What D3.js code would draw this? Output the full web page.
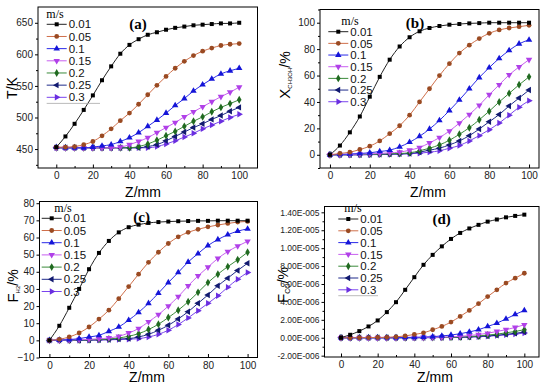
<!DOCTYPE html>
<meta charset="utf-8">
<script src="https://d3js.org/d3.v7.min.js"></script>
<style>
  body { margin: 0; background: #fff; }
  text { font-family: Arial, "Liberation Sans", sans-serif; }
</style>
<div id="my_dataviz"></div>
<script>
  // Z positions along the reactor (mm) and inlet velocities (m/s)
  var zPos = [0, 5, 10, 15, 20, 25, 30, 35, 40, 45, 50, 55, 60, 65, 70, 75, 80, 85, 90, 95, 100];
  var speeds = ["0.01", "0.05", "0.1", "0.15", "0.2", "0.25", "0.3"];

  // (a) temperature, K
  var tempK = [
    [453, 470, 490, 512, 535, 559, 581, 601, 615, 624, 631, 635, 639, 642, 644, 646, 647, 648, 649, 649, 650],
    [453, 453, 454, 457, 462, 471, 482, 495, 507, 521, 536, 551, 565, 578, 589, 598, 605, 610, 614, 616, 617],
    [453, 452, 452, 452, 453, 455, 457, 462, 468, 476, 486, 496, 507, 519, 530, 542, 552, 561, 569, 574, 578],
    [452, 452, 452, 452, 452, 452, 452, 453, 457, 462, 468, 476, 484, 492, 501, 509, 517, 525, 533, 540, 548],
    [452, 452, 452, 452, 452, 452, 452, 452, 452, 454, 458, 464, 471, 478, 486, 494, 501, 509, 516, 522, 528],
    [452, 452, 452, 452, 452, 452, 452, 452, 452, 452, 454, 457, 463, 470, 477, 484, 490, 497, 503, 510, 516],
    [452, 452, 452, 452, 452, 452, 452, 452, 452, 452, 452, 454, 458, 463, 469, 475, 482, 488, 494, 500, 505]
  ];
  // (b) methanol conversion, %
  var convPct = [
    [0, 7, 17, 29, 44, 59, 72, 82, 89, 93.5, 96, 97.5, 98.5, 99, 99.5, 99.7, 100, 100, 100, 100, 100],
    [0, 1, 2, 4, 6.5, 10.5, 16, 22, 30, 40, 50, 60, 69, 77, 83, 88, 92, 94.5, 96, 97, 98],
    [0, 0.3, 0.6, 1, 1.5, 2.5, 3.5, 6, 9.5, 14, 19.5, 26, 33.5, 41.5, 50, 58.5, 66, 73, 79, 84, 87],
    [0, 0.2, 0.3, 0.5, 0.7, 1, 1.5, 2, 3.5, 5.5, 9, 13, 18, 24, 30.5, 37.5, 45.5, 53, 60.5, 66.5, 72],
    [0, 0, 0.1, 0.2, 0.3, 0.5, 0.8, 1, 1.5, 3, 5, 7.5, 11, 15.5, 20.5, 26.5, 33, 40, 46.5, 53, 59],
    [0, 0, 0, 0.1, 0.2, 0.3, 0.5, 0.7, 1, 2, 3.5, 5, 7.5, 10.5, 14.5, 19.5, 25, 30.5, 37, 43, 49],
    [0, 0, 0, 0, 0.1, 0.2, 0.3, 0.5, 0.8, 1.2, 2, 3, 5, 7, 10.5, 14.5, 19, 24, 30, 36, 41]
  ];
  // (c) H2 fraction, %
  var h2Pct = [
    [0, 8.5, 19, 30, 41.5, 51, 58, 63, 66, 67.5, 68.5, 69, 69.3, 69.5, 69.6, 69.7, 69.7, 69.8, 69.8, 69.8, 69.8],
    [0, 0.6, 2, 4.3, 7.8, 12.4, 17.6, 24.3, 31.4, 38.6, 45.5, 51.4, 56.5, 60.4, 63, 64.8, 66.2, 67.3, 68.2, 69, 69.4],
    [0, 0.2, 0.4, 1, 2, 2.9, 5.3, 7.8, 11.8, 16.3, 21.6, 27.5, 33.7, 39.6, 45.7, 50.6, 55.3, 58.8, 61.6, 63.7, 65],
    [0, 0.1, 0.2, 0.4, 0.6, 0.9, 1.4, 2.4, 4.3, 6.9, 10.8, 15, 20, 25.5, 31.8, 37.6, 42.7, 47.8, 51.8, 55, 57.8],
    [0, 0, 0.1, 0.2, 0.3, 0.5, 0.8, 1.4, 2.4, 3.9, 6.3, 9.4, 13.3, 17.6, 22.5, 28, 33.7, 38.6, 43, 47, 51.4],
    [0, 0, 0, 0.1, 0.2, 0.3, 0.5, 0.8, 1, 2, 3.5, 5.9, 8.8, 12.5, 16.7, 21.6, 26.5, 31.8, 36.3, 40.8, 45],
    [0, 0, 0, 0, 0.1, 0.2, 0.3, 0.5, 0.7, 1, 2, 3.5, 5.9, 9.2, 13.1, 17.3, 21.6, 26, 31, 35.7, 39.6]
  ];
  // (d) CO fraction, in units of 1E-006
  var coE6 = [
    [0, 0.33, 0.74, 1.26, 1.93, 2.86, 3.97, 5.35, 6.76, 8.14, 9.25, 10.2, 11.03, 11.7, 12.2, 12.6, 12.96, 13.2, 13.44, 13.6, 13.74],
    [0, 0, 0.01, 0.02, 0.03, 0.05, 0.1, 0.2, 0.37, 0.55, 0.89, 1.26, 1.75, 2.38, 3.05, 3.8, 4.6, 5.35, 6.1, 6.65, 7.2],
    [0, 0, 0, 0, 0, 0.01, 0.02, 0.03, 0.05, 0.08, 0.12, 0.2, 0.3, 0.45, 0.65, 0.9, 1.26, 1.63, 2.1, 2.6, 3.05],
    [0, 0, 0, 0, 0, 0, 0, 0.01, 0.02, 0.03, 0.04, 0.06, 0.1, 0.15, 0.25, 0.35, 0.5, 0.7, 0.9, 1.15, 1.45],
    [0, 0, 0, 0, 0, 0, 0, 0, 0.01, 0.02, 0.03, 0.04, 0.05, 0.08, 0.13, 0.2, 0.3, 0.4, 0.55, 0.7, 0.9],
    [0, 0, 0, 0, 0, 0, 0, 0, 0, 0.01, 0.02, 0.03, 0.04, 0.05, 0.09, 0.14, 0.2, 0.28, 0.38, 0.5, 0.63],
    [0, 0, 0, 0, 0, 0, 0, 0, 0, 0.01, 0.01, 0.02, 0.03, 0.04, 0.07, 0.11, 0.17, 0.24, 0.32, 0.41, 0.52]
  ];

  var xTicks = [0, 20, 40, 60, 80, 100];
  var xMinor = [10, 30, 50, 70, 90];

  // line / marker styles per velocity
  var lineColors = ["#222222", "#cf6f4a", "#2a2ae8", "#c860f0", "#3a8a3a", "#1e2a8a", "#7a44ee"];
  var markColors = ["#000000", "#9a4a22", "#1515d8", "#b040e8", "#206a20", "#121a70", "#6a2ee0"];
  var markTypes = [
    {t: d3.symbolSquare, r: 0, s: 16},
    {t: d3.symbolCircle, r: 0, s: 18},
    {t: d3.symbolTriangle, r: 0, s: 18},
    {t: d3.symbolTriangle, r: 180, s: 18},
    {t: d3.symbolDiamond, r: 0, s: 18},
    {t: d3.symbolTriangle, r: -90, s: 18},
    {t: d3.symbolTriangle, r: 90, s: 18}
  ];

  function fmtE(v) {
    if (v >= 10) return (v / 10).toFixed(2) + "E-005";
    return v.toFixed(2) + "E-006";
  }

  var svg = d3.select("#my_dataviz")
    .append("svg")
      .attr("width", 550)
      .attr("height", 388);

  var panels = [
    {data: tempK, left: 38, right: 257.5, top: 7, bottom: 168, xDom: [-10, 110], yDom: [420, 675],
     yTicks: [450, 500, 550, 600, 650], yMinor: [425, 475, 525, 575, 625], fmt: d3.format("d"), tickFont: 10,
     tag: "(a)", tagX: 138, tagY: 24,
     legX: 46.7, legY: 24.3, legStep: 12.17, mpsX: 55, mpsY: 14, legLine: 100,
     yLab: [["T/K", 14]], yLabX: 12, yLabY: 88, xLabX: 143, xLabY: 197},
    {data: convPct, left: 320, right: 539, top: 9.5, bottom: 168, xDom: [-5, 105], yDom: [-10, 110],
     yTicks: [0, 20, 40, 60, 80, 100], yMinor: [-10, 10, 30, 50, 70, 90, 110], fmt: d3.format("d"), tickFont: 10,
     tag: "(b)", tagX: 415, tagY: 23,
     legX: 328.3, legY: 31.7, legStep: 11.67, mpsX: 350, mpsY: 21, legLine: 0,
     yLab: [["X", 15], ["CH3OH", 6, 1], ["/%", 14]], yLabX: 285, yLabY: 75, xLabX: 428, xLabY: 197},
    {data: h2Pct, left: 39.5, right: 257.5, top: 201.5, bottom: 357.5, xDom: [-5, 105], yDom: [-10, 81],
     yTicks: [-10, 0, 10, 20, 30, 40, 50, 60, 70, 80], yMinor: [], fmt: d3.format("d"), tickFont: 10,
     tag: "(c)", tagX: 141.7, tagY: 217,
     legX: 41.7, legY: 218.3, legStep: 12.2, mpsX: 63, mpsY: 208, legLine: 0,
     yLab: [["F", 15], ["H2", 6, 1], ["/%", 14]], yLabX: 13, yLabY: 286, xLabX: 147, xLabY: 382},
    {data: coE6, left: 324.5, right: 539, top: 206.5, bottom: 357, xDom: [-9, 108], yDom: [-2.15, 14.65],
     yTicks: [-2, 0, 2, 4, 6, 8, 10, 12, 14], yMinor: [-1, 1, 3, 5, 7, 9, 11, 13], fmt: fmtE, tickFont: 8.5,
     tag: "(d)", tagX: 441.7, tagY: 219,
     legX: 338.3, legY: 219, legStep: 11.8, mpsX: 353, mpsY: 208, legLine: 378,
     yLab: [["F", 15], ["CO", 7, 1], ["/%", 14]], yLabX: 283, yLabY: 285, xLabX: 435, xLabY: 382}
  ];

  panels.forEach(function (p) {
    var g = svg.append("g");
    var x = d3.scaleLinear().domain(p.xDom).range([p.left, p.right]);
    var y = d3.scaleLinear().domain(p.yDom).range([p.bottom, p.top]);

    // X axis: ticks point inward
    var xa = g.append("g")
      .attr("transform", "translate(0," + p.bottom + ")")
      .call(d3.axisBottom(x).tickValues(xTicks).tickSize(-3.5).tickPadding(4));
    g.append("g")
      .attr("transform", "translate(0," + p.bottom + ")")
      .call(d3.axisBottom(x).tickValues(xMinor).tickSize(-2).tickFormat(""))
      .select(".domain").remove();
    xa.select(".domain").remove();
    xa.selectAll("text").style("font-size", "10px").attr("fill", "#222");

    // Y axis: ticks point outward
    var ya = g.append("g")
      .attr("transform", "translate(" + p.left + ",0)")
      .call(d3.axisLeft(y).tickValues(p.yTicks).tickSize(3).tickPadding(2).tickFormat(p.fmt));
    g.append("g")
      .attr("transform", "translate(" + p.left + ",0)")
      .call(d3.axisLeft(y).tickValues(p.yMinor).tickSize(2).tickFormat(""))
      .select(".domain").remove();
    ya.select(".domain").remove();
    ya.selectAll("text").style("font-size", p.tickFont + "px").attr("fill", "#222");

    // frame
    g.append("rect")
      .attr("x", p.left)
      .attr("y", p.top)
      .attr("width", p.right - p.left)
      .attr("height", p.bottom - p.top)
      .attr("fill", "none")
      .attr("stroke", "#000")
      .attr("stroke-width", 1);

    var line = d3.line()
      .x(function (d, i) { return x(zPos[i]); })
      .y(function (d) { return y(d); })
      .curve(d3.curveMonotoneX);

    // draw from the last series to the first so black stays on top
    for (var s = p.data.length - 1; s >= 0; s--) {
      var vals = p.data[s];
      var mk = markTypes[s];
      g.append("path")
        .datum(vals)
        .attr("fill", "none")
        .attr("stroke", lineColors[s])
        .attr("stroke-width", 1)
        .attr("d", line);
      g.append("g")
        .selectAll("path")
        .data(vals)
        .enter()
        .append("path")
          .attr("d", d3.symbol().type(mk.t).size(mk.s))
          .attr("transform", function (d, i) {
            return "translate(" + x(zPos[i]) + "," + y(d) + ") rotate(" + mk.r + ")";
          })
          .attr("fill", markColors[s]);
    }

    // legend
    g.append("text")
      .attr("x", p.mpsX)
      .attr("y", p.mpsY)
      .attr("dy", "0.35em")
      .attr("text-anchor", "middle")
      .style("font-family", "'Liberation Serif', 'Times New Roman', serif")
      .style("font-size", "12px")
      .text("m/s");
    speeds.forEach(function (sp, i) {
      var ly = p.legY + i * p.legStep;
      var mk = markTypes[i];
      g.append("line")
        .attr("x1", p.legX).attr("x2", p.legX + 20)
        .attr("y1", ly).attr("y2", ly)
        .attr("stroke", lineColors[i]);
      g.append("path")
        .attr("d", d3.symbol().type(mk.t).size(mk.s))
        .attr("transform", "translate(" + (p.legX + 10) + "," + ly + ") rotate(" + mk.r + ")")
        .attr("fill", markColors[i]);
      g.append("text")
        .attr("x", p.legX + 22)
        .attr("y", ly)
        .attr("dy", "0.36em")
        .style("font-size", "11.5px")
        .attr("fill", "#111")
        .text(sp);
    });
    if (p.legLine) {
      var by = p.legY + 6.5 * p.legStep;
      g.append("line")
        .attr("x1", p.legX).attr("x2", p.legLine)
        .attr("y1", by).attr("y2", by)
        .attr("stroke", "#aaa")
        .attr("stroke-width", 0.8);
    }

    // panel tag
    g.append("text")
      .attr("x", p.tagX)
      .attr("y", p.tagY)
      .attr("dy", "0.35em")
      .attr("text-anchor", "middle")
      .style("font-family", "'Liberation Serif', 'Times New Roman', serif")
      .style("font-weight", "bold")
      .style("font-size", "15px")
      .text(p.tag);

    // axis titles
    g.append("text")
      .attr("x", p.xLabX)
      .attr("y", p.xLabY)
      .attr("text-anchor", "middle")
      .style("font-size", "14px")
      .text("Z/mm");

    var yt = g.append("text")
      .attr("text-anchor", "middle")
      .attr("transform", "translate(" + p.yLabX + "," + (p.yLabY) + ") rotate(-90)")
      .attr("y", 5);
    var prevSub = false;
    p.yLab.forEach(function (part) {
      var isSub = !!part[2];
      var dy = isSub ? 1.5 : (prevSub ? -1.5 : 0);
      yt.append("tspan")
        .style("font-size", part[1] + "px")
        .attr("dy", dy)
        .text(part[0]);
      prevSub = isSub;
    });
  });
</script>
